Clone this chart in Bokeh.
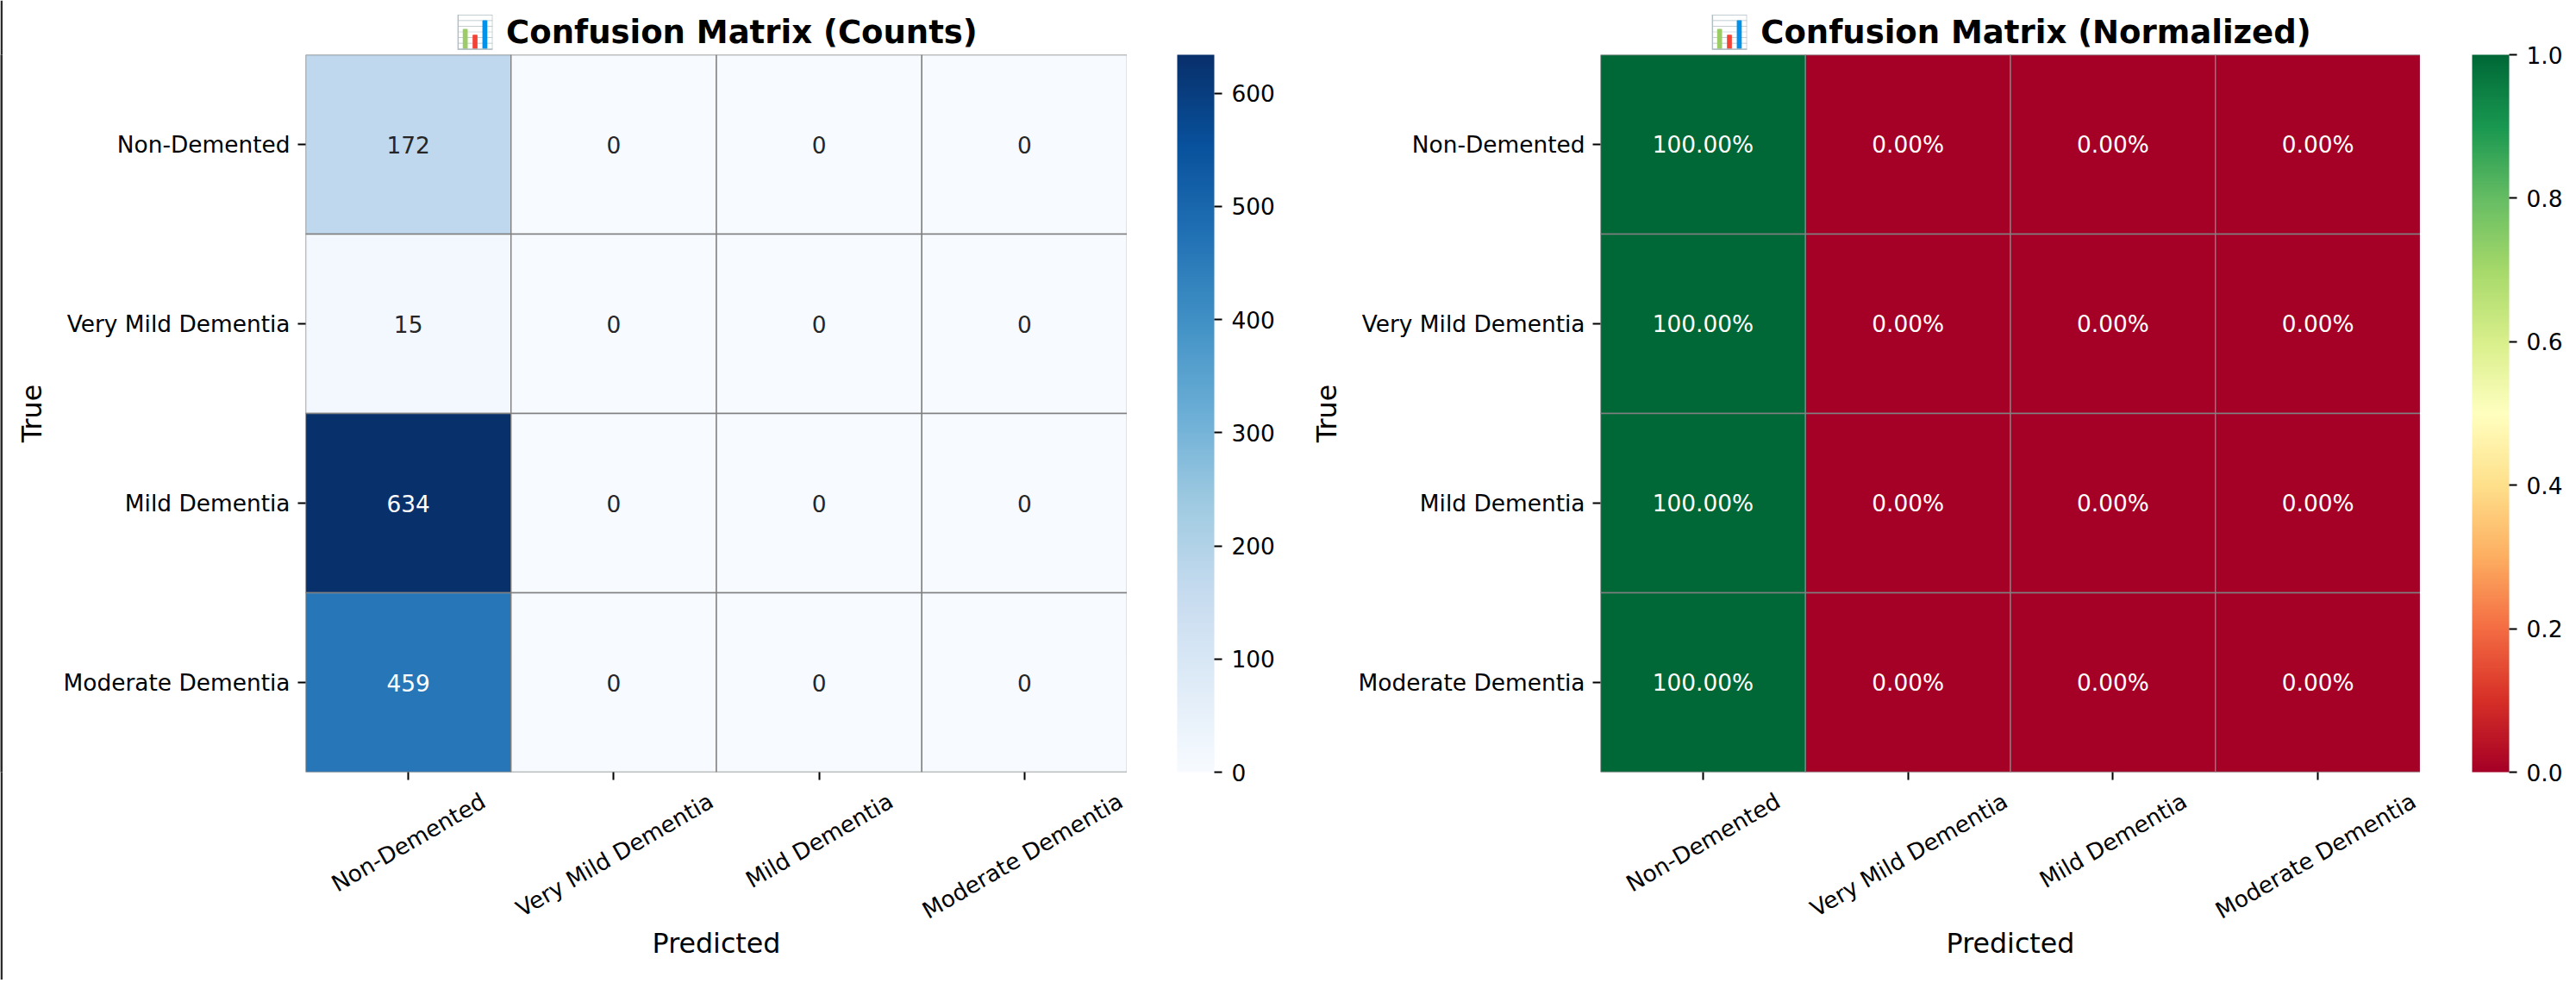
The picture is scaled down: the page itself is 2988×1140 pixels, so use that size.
import math
import numpy as np
from bokeh.plotting import figure
from bokeh.models import (ColumnDataSource, LinearColorMapper, ColorBar, FixedTicker,
                          FactorRange, Range1d, LinearAxis, PrintfTickFormatter, BasicTickFormatter)
from bokeh.layouts import row, column
from bokeh.embed import file_html
from bokeh.resources import INLINE
from bokeh.core.properties import value

# ---------------- data ----------------
classes = ["Non-Demented", "Very Mild Dementia", "Mild Dementia", "Moderate Dementia"]
counts_non_demented = [172, 0, 0, 0]
counts_very_mild = [15, 0, 0, 0]
counts_mild = [634, 0, 0, 0]
counts_moderate = [459, 0, 0, 0]
count_rows = [counts_non_demented, counts_very_mild, counts_mild, counts_moderate]
count_ticks = [0, 100, 200, 300, 400, 500, 600]
norm_ticks = [0.0, 0.2, 0.4, 0.6, 0.8, 1.0]
title_counts = "📊 Confusion Matrix (Counts)"
title_norm = "📊 Confusion Matrix (Normalized)"
xlabel = "Predicted"
ylabel = "True"

blues9 = ['#f7fbff', '#deebf7', '#c6dbef', '#9ecae1', '#6baed6', '#4292c6', '#2171b5', '#08519c', '#08306b']
rdylgn11 = ['#a50026', '#d73027', '#f46d43', '#fdae61', '#fee08b', '#ffffbf', '#d9ef8b', '#a6d96a',
            '#66bd63', '#1a9850', '#006837']

# ---------------- style ----------------
FONT = "DejaVu Sans"
FS = 26.4          # tick / annotation font size (px)
H = 1136
TOP = 63
FRAME_H = 832
BOTTOM = H - TOP - FRAME_H
EDGE = "#2b2b2b"   # dark window edge seen at left and bottom of the reference
EDGE_W = 3

# DejaVu Sans advance widths (per 1000 em) for tick-label layout
DJV = {'N': 748, 'o': 612, 'n': 634, '-': 361, 'D': 770, 'e': 615, 'm': 974, 't': 392, 'd': 635,
       'V': 684, 'r': 411, 'y': 592, ' ': 318, 'M': 863, 'i': 278, 'l': 278, 'a': 613}


def interp_palette(colors, n=256):
    rgb = np.array([[int(c[i:i + 2], 16) for i in (1, 3, 5)] for c in colors], float)
    pos = np.linspace(0, 1, len(colors))
    t = np.linspace(0, 1, n)
    out = np.stack([np.interp(t, pos, rgb[:, k]) for k in range(3)], 1)
    return ["#%02x%02x%02x" % tuple(int(round(v)) for v in c) for c in out]


def rel_lum(hexc):
    vals = [int(hexc[i:i + 2], 16) / 255 for i in (1, 3, 5)]
    f = lambda c: c / 12.92 if c <= 0.03928 else ((c + 0.055) / 1.055) ** 2.4
    r, g, b = [f(v) for v in vals]
    return 0.2126 * r + 0.7152 * g + 0.0722 * b


def text_color(v, lo, hi, pal):
    idx = int(np.clip((v - lo) / (hi - lo) * len(pal), 0, len(pal) - 1))
    return "#262626" if rel_lum(pal[idx]) > 0.408 else "#ffffff"


def text_w(s):
    return sum(DJV.get(ch, 600) for ch in s) / 1000 * FS


def style_axis(ax):
    ax.axis_line_color = None
    ax.minor_tick_line_color = None
    ax.axis_label_text_font = FONT
    ax.axis_label_text_font_size = "31.7px"
    ax.axis_label_text_font_style = "normal"
    ax.axis_label_text_color = "black"
    ax.major_label_text_font = FONT
    ax.major_label_text_font_size = f"{FS}px"
    ax.major_label_text_color = "black"


def heatmap(title, matrix, labels, pal, lo, hi, left_border, frame_w):
    mapper = LinearColorMapper(palette=pal, low=lo, high=hi)
    centers = [j + 0.5 for j in range(len(classes))]   # column centres on the x scale
    xs, ys, vs, ts, cs = [], [], [], [], []
    for i, true_c in enumerate(classes):
        for j, pred_c in enumerate(classes):
            xs.append(centers[j])
            ys.append(true_c)
            vs.append(matrix[i][j])
            ts.append(labels[i][j])
            cs.append(text_color(matrix[i][j], lo, hi, pal))
    src = ColumnDataSource(dict(x=xs, y=ys, v=vs, t=ts, c=cs))

    p = figure(width=left_border + frame_w, height=H,
               x_range=Range1d(0, len(classes)), y_range=FactorRange(factors=classes[::-1]),
               output_backend="svg", toolbar_location=None,
               min_border_left=left_border, min_border_right=0,
               min_border_top=TOP, min_border_bottom=BOTTOM, title=title)
    p.outline_line_color = None
    p.grid.visible = False
    p.background_fill_color = "white"
    p.border_fill_color = "white"

    p.title.align = "center"
    p.title.text_font = FONT
    p.title.text_font_size = "37px"
    p.title.text_font_style = "bold"
    p.title.text_color = "black"

    p.rect(x="x", y="y", width=1, height=1, source=src,
           fill_color={"field": "v", "transform": mapper},
           line_color="#808080", line_width=1.4)
    p.text(x="x", y="y", text="t", text_color="c", source=src,
           text_align="center", text_baseline="middle",
           text_font=value(FONT), text_font_size=value(f"{FS}px"))

    for ax in (p.xaxis[0], p.yaxis[0]):
        style_axis(ax)
        ax.major_tick_in = 0
        ax.major_tick_out = 9
        ax.major_tick_line_width = 2
        ax.major_tick_line_color = "black"

    p.yaxis.axis_label = ylabel
    p.yaxis.major_label_standoff = 9
    p.yaxis.axis_label_standoff = 16

    # tick marks at the column centres; their labels come from the axis below
    p.xaxis.ticker = FixedTicker(ticks=centers)
    p.xaxis.major_label_overrides = {c: "" for c in centers}
    p.xaxis.major_label_standoff = 0

    # rotated (30 deg) labels placed like matplotlib's rotation=30, ha="center"
    ang = math.pi / 6
    cell_w = frame_w / len(classes)
    lab_pos = [centers[i] + (text_w(s) * math.cos(ang) / 2) / cell_w for i, s in enumerate(classes)]
    lab_axis = LinearAxis(ticker=FixedTicker(ticks=lab_pos),
                          major_label_overrides=dict(zip(lab_pos, classes)),
                          major_label_orientation=ang, major_tick_in=0, major_tick_out=0,
                          major_tick_line_color=None, major_label_standoff=22,
                          axis_label=xlabel, axis_label_standoff=-12)
    style_axis(lab_axis)
    p.add_layout(lab_axis, "below")
    return p, mapper


def colorbar_fig(mapper, ticks, fmt, width, left):
    c = figure(width=width, height=H, x_range=Range1d(0, 1), y_range=Range1d(0, 1),
               output_backend="svg", toolbar_location=None,
               min_border_left=left, min_border_right=0,
               min_border_top=TOP, min_border_bottom=BOTTOM,
               x_axis_location=None, y_axis_location=None)
    c.outline_line_color = None
    c.grid.visible = False
    cb = ColorBar(color_mapper=mapper, ticker=FixedTicker(ticks=ticks), formatter=fmt,
                  location="top_left", orientation="vertical", width=43, height=FRAME_H,
                  margin=0, padding=0, label_standoff=11,
                  major_tick_in=0, major_tick_out=9, major_tick_line_color="black",
                  major_tick_line_width=2, minor_tick_line_color=None,
                  bar_line_color=None, border_line_color=None, background_fill_color=None,
                  major_label_text_font=FONT, major_label_text_font_size=f"{FS}px",
                  major_label_text_color="black")
    c.add_layout(cb)
    return c


def edge_fig(width, height):
    e = figure(width=width, height=height, x_range=Range1d(0, 1), y_range=Range1d(0, 1),
               output_backend="svg", toolbar_location=None, min_border=0,
               x_axis_location=None, y_axis_location=None)
    e.outline_line_color = None
    e.grid.visible = False
    e.background_fill_color = EDGE
    e.border_fill_color = EDGE
    return e


blues = interp_palette(blues9)
rdylgn = interp_palette(rdylgn11)

count_max = max(max(r) for r in count_rows)
count_labels = [[str(v) for v in r] for r in count_rows]
norm_rows = [[v / sum(r) for v in r] for r in count_rows]
norm_labels = [[f"{v:.2%}" for v in r] for r in norm_rows]

p1, m1 = heatmap(title_counts, count_rows, count_labels, blues, 0, count_max, 354 - EDGE_W, 953)
c1 = colorbar_fig(m1, count_ticks, BasicTickFormatter(), 1508 - 1307, 58)
p2, m2 = heatmap(title_norm, norm_rows, norm_labels, rdylgn, 0.0, 1.0, 348, 951)
c2 = colorbar_fig(m2, norm_ticks, PrintfTickFormatter(format="%.1f"), 2984 - 2807, 60)

layout = column(row(edge_fig(EDGE_W, H), p1, c1, p2, c2), edge_fig(2984, 4))
open("out.html", "w").write(file_html(layout, INLINE))
